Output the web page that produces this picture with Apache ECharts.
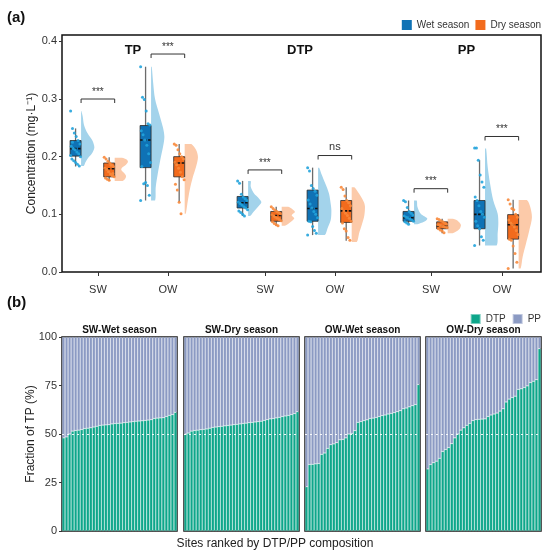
<!DOCTYPE html>
<html>
<head>
<meta charset="utf-8">
<script src="https://cdn.jsdelivr.net/npm/echarts@6/dist/echarts.min.js"></script>
<style>
  html, body { margin: 0; padding: 0; background: #fff; }
  #main { width: 550px; height: 557px; }
</style>
</head>
<body>
<div id="main"></div>
<script>
// ---- data (a): concentrations, mg/L ----
const siteLabels = ['SW', 'OW', 'SW', 'OW', 'SW', 'OW'];
const groupNames = ['TP', 'DTP', 'PP'];
const seasonNames = ['Wet season', 'Dry season'];

// [min, q1, median, q3, max] per site/fraction
const wetBox = [
  [0.183, 0.201, 0.214, 0.228, 0.249],
  [0.124, 0.181, 0.229, 0.254, 0.356],
  [0.097, 0.111, 0.120, 0.131, 0.158],
  [0.064, 0.088, 0.110, 0.142, 0.181],
  [0.083, 0.088, 0.094, 0.105, 0.124],
  [0.046, 0.075, 0.100, 0.124, 0.194]
];
const dryBox = [
  [0.158, 0.165, 0.179, 0.189, 0.199],
  [0.121, 0.165, 0.189, 0.200, 0.222],
  [0.080, 0.088, 0.098, 0.105, 0.113],
  [0.054, 0.086, 0.106, 0.124, 0.147],
  [0.067, 0.075, 0.080, 0.087, 0.0925],
  [0.006, 0.057, 0.082, 0.0995, 0.1255]
];

// half violin density profiles: [value, relative density]
const wetViolin = [
  [[0.279, 0.02], [0.27, 0.12], [0.255, 0.22], [0.24, 0.5], [0.228, 0.85], [0.216, 1], [0.205, 0.8], [0.197, 0.5], [0.19, 0.32], [0.184, 0.2]],
  [[0.356, 0.05], [0.33, 0.15], [0.30, 0.3], [0.275, 0.6], [0.25, 0.9], [0.234, 1], [0.217, 0.9], [0.195, 0.7], [0.17, 0.5], [0.147, 0.35], [0.124, 0.3]],
  [[0.158, 0.2], [0.148, 0.2], [0.136, 0.45], [0.128, 0.8], [0.121, 1], [0.112, 0.7], [0.104, 0.4], [0.097, 0.15]],
  [[0.181, 0.08], [0.17, 0.25], [0.153, 0.55], [0.136, 0.82], [0.118, 0.95], [0.107, 1], [0.09, 0.95], [0.075, 0.7], [0.064, 0.5]],
  [[0.124, 0.2], [0.113, 0.25], [0.101, 0.5], [0.0925, 1], [0.087, 0.75], [0.083, 0.25]],
  [[0.214, 0.08], [0.182, 0.2], [0.153, 0.38], [0.124, 0.62], [0.101, 0.95], [0.084, 1], [0.067, 0.95], [0.046, 0.87]]
];
const dryViolin = [
  [[0.198, 0.55], [0.195, 0.9], [0.191, 1], [0.186, 0.85], [0.181, 0.55], [0.177, 0.5], [0.172, 0.7], [0.167, 0.85], [0.162, 0.8], [0.158, 0.6]],
  [[0.222, 0.5], [0.211, 0.87], [0.199, 1], [0.182, 0.85], [0.165, 0.62], [0.142, 0.38], [0.118, 0.2], [0.101, 0.08]],
  [[0.113, 0.5], [0.108, 0.85], [0.104, 1], [0.0985, 0.75], [0.093, 0.95], [0.087, 0.7], [0.08, 0.25]],
  [[0.147, 0.2], [0.136, 0.55], [0.121, 0.92], [0.113, 1], [0.098, 0.95], [0.081, 0.75], [0.0665, 0.55], [0.052, 0.38]],
  [[0.0925, 0.38], [0.089, 0.75], [0.0815, 1], [0.074, 0.87], [0.067, 0.38]],
  [[0.125, 0.62], [0.113, 0.87], [0.095, 1], [0.072, 0.8], [0.049, 0.55], [0.026, 0.3], [0.006, 0.15]]
];

const wetPoints = [
  [0.279, 0.249, 0.241, 0.235, 0.228, 0.222, 0.218, 0.214, 0.212, 0.208, 0.205, 0.2, 0.196, 0.193, 0.19, 0.187, 0.184, 0.202, 0.225],
  [0.356, 0.303, 0.299, 0.279, 0.257, 0.255, 0.245, 0.238, 0.229, 0.22, 0.205, 0.19, 0.183, 0.153, 0.155, 0.15, 0.133, 0.124],
  [0.158, 0.154, 0.135, 0.13, 0.127, 0.124, 0.121, 0.119, 0.116, 0.113, 0.111, 0.108, 0.106, 0.103, 0.1, 0.097],
  [0.181, 0.175, 0.15, 0.145, 0.14, 0.133, 0.125, 0.118, 0.111, 0.105, 0.1, 0.094, 0.088, 0.087, 0.079, 0.072, 0.067, 0.064],
  [0.124, 0.122, 0.112, 0.105, 0.102, 0.099, 0.097, 0.095, 0.094, 0.092, 0.09, 0.088, 0.087, 0.085, 0.083],
  [0.215, 0.215, 0.194, 0.168, 0.156, 0.147, 0.13, 0.124, 0.115, 0.105, 0.1, 0.095, 0.088, 0.08, 0.075, 0.061, 0.055, 0.046]
];
const dryPoints = [
  [0.199, 0.196, 0.192, 0.189, 0.186, 0.183, 0.18, 0.178, 0.174, 0.17, 0.167, 0.165, 0.163, 0.161, 0.159, 0.185, 0.171],
  [0.222, 0.22, 0.212, 0.205, 0.2, 0.196, 0.19, 0.186, 0.18, 0.173, 0.165, 0.16, 0.152, 0.142, 0.121, 0.101],
  [0.113, 0.11, 0.107, 0.105, 0.103, 0.101, 0.099, 0.097, 0.095, 0.093, 0.091, 0.089, 0.087, 0.084, 0.082, 0.08],
  [0.147, 0.143, 0.132, 0.124, 0.12, 0.115, 0.11, 0.106, 0.102, 0.098, 0.093, 0.088, 0.085, 0.075, 0.071, 0.06, 0.055],
  [0.0925, 0.091, 0.089, 0.087, 0.085, 0.083, 0.082, 0.081, 0.08, 0.079, 0.078, 0.077, 0.075, 0.073, 0.071, 0.068],
  [0.1255, 0.118, 0.11, 0.108, 0.1, 0.095, 0.09, 0.085, 0.082, 0.078, 0.072, 0.065, 0.057, 0.055, 0.045, 0.032, 0.017, 0.006]
];

const bracketLevel = [0.300, 0.378, 0.177, 0.202, 0.1445, 0.235];
const bracketLabel = ['***', '***', '***', 'ns', '***', '***'];
const concTicks = [0, 0.1, 0.2, 0.3, 0.4];

// ---- data (b): DTP share of TP (%), sites ranked ----
const facetNames = ['SW-Wet season', 'SW-Dry season', 'OW-Wet season', 'OW-Dry season'];
const dtpSwWet = [48.0, 48.5, 50.0, 51.5, 51.8, 52.0, 52.3, 52.8, 53.0, 53.2, 53.6, 54.0, 54.4, 54.6, 54.7, 54.8, 55.2, 55.4, 55.5, 55.6, 55.8, 56.0, 56.2, 56.4, 56.6, 56.7, 56.8, 57.0, 57.2, 57.4, 58.0, 58.2, 58.3, 58.4, 59.0, 59.6, 60.0, 61.2];
const dtpSwDry = [50.0, 50.5, 51.5, 51.8, 52.0, 52.2, 52.4, 52.6, 53.0, 53.4, 53.6, 53.8, 54.0, 54.2, 54.4, 54.6, 54.8, 55.0, 55.2, 55.4, 55.6, 55.8, 56.0, 56.2, 56.4, 56.6, 57.0, 57.4, 57.8, 58.0, 58.3, 58.6, 59.0, 59.3, 59.6, 60.0, 60.5, 61.5];
const dtpOwWet = [22.8, 34.3, 34.4, 34.6, 34.8, 39.5, 40.2, 42.6, 44.5, 44.9, 45.5, 47.0, 47.2, 48.0, 50.0, 50.3, 51.7, 56.0, 56.4, 56.9, 57.3, 58.0, 58.2, 58.5, 59.0, 59.5, 59.8, 60.3, 60.6, 61.0, 61.5, 62.0, 63.0, 63.4, 64.0, 64.6, 65.2, 75.5];
const dtpOwDry = [32.0, 34.3, 35.2, 36.0, 37.5, 41.0, 42.0, 43.0, 45.0, 48.0, 50.0, 52.0, 53.2, 54.5, 55.5, 56.9, 57.4, 57.6, 57.7, 57.8, 59.0, 59.8, 60.3, 60.8, 61.8, 63.0, 66.5, 68.0, 68.8, 69.5, 73.0, 73.3, 74.0, 74.8, 76.5, 77.2, 78.0, 94.0];
const pctTicks = [0, 25, 50, 75, 100];

// ---- layout / style ----
const FONT = 'Liberation Sans, Arial, Helvetica, sans-serif';
const catPos = [0, 1, 2.386, 3.386, 4.757, 5.771];
const groupMid = [0.5, 2.886, 5.264];
const boxOffset = [-0.32, 0.16];
const boxW = 0.157;
const violinW = 0.19;
const boxColor = ['#0f72b5', '#f26b1d'];
const violinColor = ['#a3d3eb', '#fccaa9'];
const pointColor = ['#22a3dc', '#f8893c'];
const dtpColor = '#0da68a';
const ppColor = '#8b9ac3';

const boxes = [wetBox, dryBox];
const violins = [wetViolin, dryViolin];
const points = [wetPoints, dryPoints];
const dtpSets = [dtpSwWet, dtpSwDry, dtpOwWet, dtpOwDry];

const facetLeft = [62, 184, 305, 426];
const facetW = 115;

const jit = j => ((j * 37) % 17) / 16 - 0.5;

function violinRender(s) {
  return function (params, api) {
    const k = params.dataIndex;
    const prof = violins[s][k];
    const x0 = catPos[k] + boxOffset[s] + boxW / 2;
    const pts = [api.coord([x0, prof[0][0]])];
    prof.forEach(p => pts.push(api.coord([x0 + p[1] * violinW, p[0]])));
    pts.push(api.coord([x0, prof[prof.length - 1][0]]));
    return {
      type: 'polygon',
      shape: { points: pts, smooth: 0.3, smoothConstraint: [pts[0], pts[0]] },
      style: { fill: violinColor[s] }
    };
  };
}

function boxRender(s) {
  return function (params, api) {
    const k = params.dataIndex;
    const b = boxes[s][k];
    const xc = catPos[k] + boxOffset[s];
    const tl = api.coord([xc - boxW / 2, b[3]]);
    const br = api.coord([xc + boxW / 2, b[1]]);
    const wt = api.coord([xc, b[4]]);
    const wb = api.coord([xc, b[0]]);
    const ml = api.coord([xc - boxW / 2, b[2]]);
    const mr = api.coord([xc + boxW / 2, b[2]]);
    return {
      type: 'group',
      children: [
        { type: 'line', shape: { x1: wt[0], y1: wt[1], x2: wb[0], y2: wb[1] }, style: { stroke: '#6b6b6b', lineWidth: 1.3 } },
        { type: 'rect', shape: { x: tl[0], y: tl[1], width: br[0] - tl[0], height: br[1] - tl[1] }, style: { fill: boxColor[s], stroke: '#2a2a2a', lineWidth: 0.8 } },
        { type: 'line', shape: { x1: ml[0], y1: ml[1], x2: mr[0], y2: mr[1] }, style: { stroke: '#111', lineWidth: 1.6, lineDash: [2.5, 1.5] } }
      ]
    };
  };
}

function bracketRender(params, api) {
  const k = params.dataIndex;
  const y = bracketLevel[k];
  const a = api.coord([catPos[k] + boxOffset[0] + boxW / 2, y]);
  const b = api.coord([catPos[k] + boxOffset[1] + boxW / 2, y]);
  const ns = bracketLabel[k] === 'ns';
  return {
    type: 'group',
    children: [
      { type: 'polyline', shape: { points: [[a[0], a[1] + 4], a, b, [b[0], b[1] + 4]] }, style: { stroke: '#333', lineWidth: 1, fill: null } },
      { type: 'text', style: { x: (a[0] + b[0]) / 2, y: a[1] - (ns ? 3 : 2), text: bracketLabel[k], align: 'center', verticalAlign: 'bottom', fontSize: ns ? 11 : 10, fontFamily: FONT, fill: '#333' } }
    ]
  };
}

function groupTitleRender(params, api) {
  const p = api.coord([groupMid[params.dataIndex], 0.384]);
  return {
    type: 'text',
    style: { x: p[0], y: p[1], text: groupNames[params.dataIndex], align: 'center', verticalAlign: 'middle', fontSize: 13, fontWeight: 'bold', fontFamily: FONT, fill: '#111' }
  };
}

const series = [];
[0, 1].forEach(s => {
  series.push({
    type: 'custom', name: 'violin' + s, xAxisIndex: 0, yAxisIndex: 0,
    renderItem: violinRender(s), silent: true,
    data: catPos.map((x, i) => [x, boxes[s][i][2]])
  });
});
[0, 1].forEach(s => {
  series.push({
    type: 'custom', name: seasonNames[s], xAxisIndex: 0, yAxisIndex: 0,
    itemStyle: { color: boxColor[s] },
    renderItem: boxRender(s),
    data: catPos.map((x, i) => [x, boxes[s][i][2]])
  });
});
[0, 1].forEach(s => {
  const data = [];
  points[s].forEach((vals, k) => {
    vals.forEach((v, j) => data.push([catPos[k] + boxOffset[s] + jit(j) * boxW * 0.9, v]));
  });
  series.push({
    type: 'scatter', name: 'pts' + s, xAxisIndex: 0, yAxisIndex: 0,
    symbolSize: 3, itemStyle: { color: pointColor[s], opacity: 0.9 },
    silent: true, data: data
  });
});
series.push({
  type: 'custom', name: 'brackets', xAxisIndex: 0, yAxisIndex: 0, silent: true,
  renderItem: bracketRender, data: catPos.map((x, i) => [x, bracketLevel[i]])
});
series.push({
  type: 'custom', name: 'groups', xAxisIndex: 0, yAxisIndex: 0, silent: true,
  renderItem: groupTitleRender, data: groupMid.map(x => [x, 0.384])
});

dtpSets.forEach((dtp, f) => {
  series.push({
    type: 'bar', name: 'DTP', stack: 'f' + f, xAxisIndex: f + 1, yAxisIndex: f + 1,
    barCategoryGap: '0%', itemStyle: { color: dtpColor, borderColor: 'rgba(255,255,255,0.45)', borderWidth: 0.5 },
    data: dtp
  });
  series.push({
    type: 'bar', name: 'PP', stack: 'f' + f, xAxisIndex: f + 1, yAxisIndex: f + 1,
    barCategoryGap: '0%', itemStyle: { color: ppColor, borderColor: 'rgba(255,255,255,0.45)', borderWidth: 0.5 },
    data: dtp.map(v => +(100 - v).toFixed(1)),
    markLine: {
      silent: true, symbol: 'none', label: { show: false },
      lineStyle: { color: '#fff', type: [2, 3], width: 1, opacity: 0.9 },
      data: [{ yAxis: 50 }]
    }
  });
});

const grids = [{ left: 62, right: 9, top: 35, height: 237, show: true, borderColor: '#111', borderWidth: 1.5 }];
facetLeft.forEach(l => grids.push({ left: l, width: facetW, top: 337, height: 194, show: true, borderColor: '#111', borderWidth: 1.5 }));

const xAxes = [{
  type: 'value', gridIndex: 0, min: -0.514, max: 6.329,
  axisLine: { show: false, onZero: false }, splitLine: { show: false },
  axisTick: { show: true, length: 4, customValues: catPos, lineStyle: { color: '#333' } },
  axisLabel: { customValues: catPos, margin: 12, fontSize: 11, color: '#333', fontFamily: FONT,
    formatter: v => siteLabels[catPos.findIndex(p => Math.abs(p - v) < 1e-6)] || '' }
}];
const yAxes = [{
  type: 'value', gridIndex: 0, min: 0, max: 0.411,
  name: 'Concentration (mg·L⁻¹)', nameLocation: 'middle', nameGap: 24, nameMoveOverlap: false,
  nameTextStyle: { fontSize: 12, color: '#222', fontFamily: FONT },
  axisLine: { show: false, onZero: false }, splitLine: { show: false },
  axisTick: { show: true, length: 3, customValues: concTicks, lineStyle: { color: '#333' } },
  axisLabel: { customValues: concTicks, margin: 5, fontSize: 11, color: '#333', fontFamily: FONT, formatter: v => v.toFixed(1) }
}];
dtpSets.forEach((dtp, f) => {
  xAxes.push({
    type: 'category', gridIndex: f + 1, data: dtp.map((_, i) => i + 1),
    axisLine: { show: false, onZero: false }, axisTick: { show: false }, axisLabel: { show: false }
  });
  yAxes.push({
    type: 'value', gridIndex: f + 1, min: 0, max: 100, interval: 25,
    name: f === 0 ? 'Fraction of TP (%)' : '', nameLocation: 'middle', nameGap: 25, nameMoveOverlap: false,
    nameTextStyle: { fontSize: 12, color: '#222', fontFamily: FONT },
    axisLine: { show: false, onZero: false }, splitLine: { show: false },
    axisTick: { show: f === 0, length: 3, lineStyle: { color: '#333' } },
    axisLabel: { show: f === 0, margin: 5, fontSize: 11, color: '#333', fontFamily: FONT }
  });
});

const titles = [
  { text: '(a)', left: 7, top: 10, padding: 0, textStyle: { fontSize: 15, fontWeight: 'bold', color: '#111', fontFamily: FONT } },
  { text: '(b)', left: 7, top: 295, padding: 0, textStyle: { fontSize: 15, fontWeight: 'bold', color: '#111', fontFamily: FONT } }
];
facetNames.forEach((n, i) => titles.push({
  text: n, left: facetLeft[i] + facetW / 2, top: 325, textAlign: 'center', padding: 0,
  textStyle: { fontSize: 10, fontWeight: 'bold', color: '#111', fontFamily: FONT }
}));

const chart = echarts.init(document.getElementById('main'));
chart.setOption({
  animation: false,
  backgroundColor: '#fff',
  textStyle: { fontFamily: FONT },
  title: titles,
  legend: [
    { data: seasonNames, right: 9, top: 20, padding: 0, icon: 'rect', itemWidth: 10, itemHeight: 10, itemGap: 6,
      textStyle: { fontSize: 10, color: '#333', fontFamily: FONT } },
    { data: ['DTP', 'PP'], right: 9, top: 313, padding: 0, icon: 'rect', itemWidth: 10, itemHeight: 10, itemGap: 6,
      textStyle: { fontSize: 10, color: '#333', fontFamily: FONT } }
  ],
  grid: grids,
  xAxis: xAxes,
  yAxis: yAxes,
  graphic: [{
    type: 'text', left: 'center', top: 538,
    style: { text: 'Sites ranked by DTP/PP composition', fontSize: 12, fill: '#222', fontFamily: FONT }
  }],
  series: series
});
</script>
</body>
</html>
